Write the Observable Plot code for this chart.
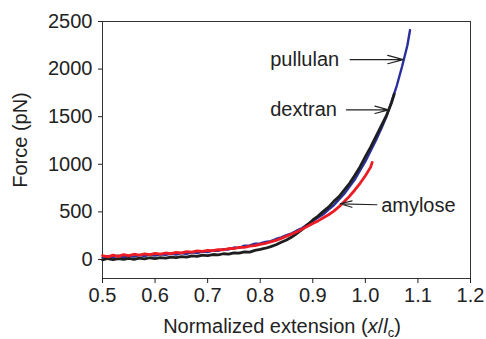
<!DOCTYPE html>
<html>
<head>
<meta charset="utf-8">
<script src="https://cdn.jsdelivr.net/npm/d3@7"></script>
<script src="https://cdn.jsdelivr.net/npm/@observablehq/plot@0.6"></script>
<style>
  html, body { margin: 0; padding: 0; background: white; }
</style>
</head>
<body>
<div id="chart"></div>
<script>
// x: normalized extension (x/lc), y: force (pN)
const pullulanX = [0.50,0.51,0.52,0.53,0.54,0.55,0.56,0.57,0.58,0.59,0.60,0.61,0.62,0.63,0.64,0.65,0.66,0.67,0.68,0.69,0.70,0.71,0.72,0.73,0.74,0.75,0.76,0.77,0.78,0.79,0.80,0.81,0.82,0.83,0.84,0.85,0.86,0.87,0.88,0.89,0.90,0.91,0.92,0.93,0.94,0.95,0.96,0.97,0.98,0.99,1.00,1.01,1.02,1.03,1.04,1.05,1.06,1.07,1.08,1.085];
const pullulanY = [20,35,25,40,22,38,30,45,35,50,42,55,48,60,52,66,58,75,68,82,78,92,90,108,105,125,122,145,148,165,168,185,192,215,232,255,275,305,330,370,400,440,475,525,570,630,690,765,840,935,1030,1140,1250,1370,1500,1660,1830,2030,2250,2410];

const dextranX = [0.50,0.51,0.52,0.53,0.54,0.55,0.56,0.57,0.58,0.59,0.60,0.61,0.62,0.63,0.64,0.65,0.66,0.67,0.68,0.69,0.70,0.71,0.72,0.73,0.74,0.75,0.76,0.77,0.78,0.79,0.80,0.81,0.82,0.83,0.84,0.85,0.86,0.87,0.88,0.89,0.90,0.91,0.92,0.93,0.94,0.95,0.96,0.97,0.98,0.99,1.00,1.01,1.02,1.03,1.04,1.05,1.055];
const dextranY = [-5,10,-2,8,0,12,2,15,5,18,10,20,14,25,20,30,25,38,32,45,40,52,48,60,56,70,66,80,78,95,105,118,135,155,180,205,235,275,315,365,415,455,505,550,610,660,730,800,885,975,1080,1180,1290,1400,1510,1650,1740];

const amyloseX = [0.50,0.51,0.52,0.53,0.54,0.55,0.56,0.57,0.58,0.59,0.60,0.61,0.62,0.63,0.64,0.65,0.66,0.67,0.68,0.69,0.70,0.71,0.72,0.73,0.74,0.75,0.76,0.77,0.78,0.79,0.80,0.81,0.82,0.83,0.84,0.85,0.86,0.87,0.88,0.89,0.90,0.91,0.92,0.93,0.94,0.95,0.96,0.97,0.98,0.99,1.00,1.01,1.013];
const amyloseY = [40,28,45,32,50,40,55,45,58,50,65,55,68,62,75,70,82,78,90,85,96,92,104,102,115,114,126,128,140,145,158,168,184,200,222,244,268,292,320,348,378,405,438,470,508,555,610,665,730,800,880,970,1020];

const xTicks = [0.5,0.6,0.7,0.8,0.9,1.0,1.1,1.2];
const yTicks = [0,500,1000,1500,2000,2500];

const labelNames = ["pullulan","dextran","amylose"];
const labelX = [0.819,0.819,1.030];
const labelY = [2100,1572,562];
const arrowX1 = [0.971,0.964,1.022];
const arrowX2 = [1.072,1.044,0.952];
const arrowY1 = [2100,1572,575];
const arrowY2 = [2100,1572,585];

const toRows = (xs, ys) => xs.map((x, i) => ({x, y: ys[i]}));
const labels = labelNames.map((name, i) => ({name, x: labelX[i], y: labelY[i]}));
const arrows = labelNames.map((n, i) => ({x1: arrowX1[i], x2: arrowX2[i], y1: arrowY1[i], y2: arrowY2[i]}));

const chart = Plot.plot({
  width: 486,
  height: 339,
  marginLeft: 102,
  marginRight: 16,
  marginTop: 21,
  marginBottom: 61,
  style: {fontFamily: "'Liberation Sans', Arial, sans-serif", fontSize: "20px", color: "#222", background: "white"},
  x: {domain: [0.5, 1.2]},
  y: {domain: [-200, 2500]},
  marks: [
    Plot.frame({stroke: "#333", strokeWidth: 1}),
    Plot.axisX({ticks: xTicks, tickFormat: d3.format(".1f"), tickSize: 5, tickPadding: 4, label: null, fontSize: 20}),
    Plot.axisY({ticks: yTicks, tickFormat: d3.format("d"), tickSize: 4, tickPadding: 6, label: null, fontSize: 20}),
    Plot.line(toRows(pullulanX, pullulanY), {x: "x", y: "y", stroke: "#2b2f9c", strokeWidth: 2.4, strokeLinejoin: "miter"}),
    Plot.line(toRows(dextranX, dextranY), {x: "x", y: "y", stroke: "#1e1e1e", strokeWidth: 2.8, strokeLinejoin: "miter"}),
    Plot.line(toRows(amyloseX, amyloseY), {x: "x", y: "y", stroke: "#ec1c24", strokeWidth: 2.8, strokeLinejoin: "miter"}),
    Plot.arrow(arrows, {x1: "x1", y1: "y1", x2: "x2", y2: "y2", stroke: "#222", strokeWidth: 1.2, headLength: 20, headAngle: 30}),
    Plot.text(labels, {x: "x", y: "y", text: "name", textAnchor: "start", fontSize: 20, fill: "#222"})
  ]
});

const svg = d3.select(chart);
svg.append("text")
  .attr("transform", "translate(20,140) rotate(-90)")
  .attr("text-anchor", "middle")
  .attr("dy", "0.35em")
  .attr("font-size", 20)
  .attr("fill", "#222")
  .text("Force (pN)");

const xt = svg.append("text")
  .attr("x", 282)
  .attr("y", 333)
  .attr("text-anchor", "middle")
  .attr("font-size", 20)
  .attr("fill", "#222");
xt.append("tspan").text("Normalized extension (");
xt.append("tspan").attr("font-style", "italic").text("x");
xt.append("tspan").text("/");
xt.append("tspan").attr("font-style", "italic").text("l");
xt.append("tspan").attr("font-size", 13).attr("dy", 4).text("c");
xt.append("tspan").attr("dy", -4).text(")");

document.getElementById("chart").appendChild(chart);
</script>
</body>
</html>
